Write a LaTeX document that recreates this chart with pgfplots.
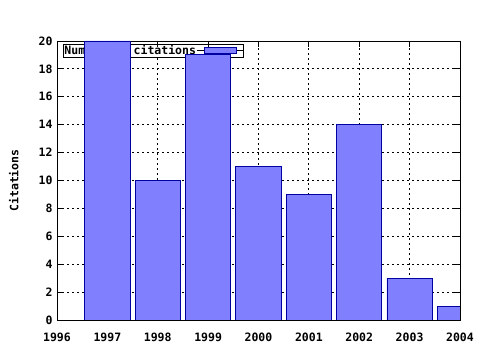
\documentclass[border=0pt]{standalone}
\usepackage{pgfplots}
\pgfplotsset{compat=1.18}
\usepackage{fontspec}
\setmainfont{DejaVu Sans Mono}[BoldFont={DejaVu Sans Mono Bold}]
\newcommand{\gpfont}{\fontsize{11.5bp}{13bp}\selectfont\bfseries}
\definecolor{barfill}{RGB}{128,128,255}
\definecolor{bardraw}{RGB}{0,0,160}
\pgfplotsset{
  common/.style={
    at={(57bp,30bp)}, anchor=south west,
    scale only axis, width=403bp, height=279bp,
    xmin=1996, xmax=2004, ymin=0, ymax=20,
    xtick={1996,1997,...,2004}, ytick={0,2,...,20},
    minor x tick num=3,
    tick style={black, line width=0.8bp},
    major tick length=6bp, minor tick length=3bp,
    axis line style={black, line width=0.9bp},
  },
}
\begin{document}
\begin{tikzpicture}
\useasboundingbox (0,0) rectangle (480bp,350bp);
\begin{axis}[
  common,
  xticklabel style={/pgf/number format/1000 sep={}},
  /pgf/number format/assume math mode=true,
  ticklabel style={font=\gpfont},
  xticklabel style={yshift=-9bp, text height=8.5bp, text depth=0bp},
  yticklabel style={xshift=-1bp},
  grid=major,
  major grid style={black, line width=0.8bp, dash pattern=on 2bp off 3bp},
  ylabel={Citations},
  every axis y label/.style={at={(axis description cs:-0.107,0.5)}, rotate=90, anchor=center, font=\gpfont},
  legend plot pos=right,
  legend style={at={(axis description cs:0,1)}, anchor=north west, xshift=6bp, yshift=-3bp,
    draw=black, line width=0.9bp, fill=white, inner xsep=0bp, inner ysep=0bp,
    font=\gpfont,
    nodes={inner sep=1bp}},
]
\addlegendimage{legend image code/.code={\path (-7bp,0) -- (39bp,0);\draw[fill=barfill, draw=bardraw, line width=0.9bp] (0bp,-3bp) rectangle (32bp,3bp);}}
\addlegendentry{Number of citations}
\end{axis}
\begin{axis}[
  common,
  xticklabels={}, yticklabels={},
]
\addplot[ybar, bar width=0.9, bar shift=0pt, fill=barfill, draw=bardraw, line width=0.9bp]
  coordinates {(1997,20) (1998,10) (1999,19) (2000,11) (2001,9) (2002,14) (2003,3) (2004,1)};
\end{axis}
\end{tikzpicture}
\end{document}
